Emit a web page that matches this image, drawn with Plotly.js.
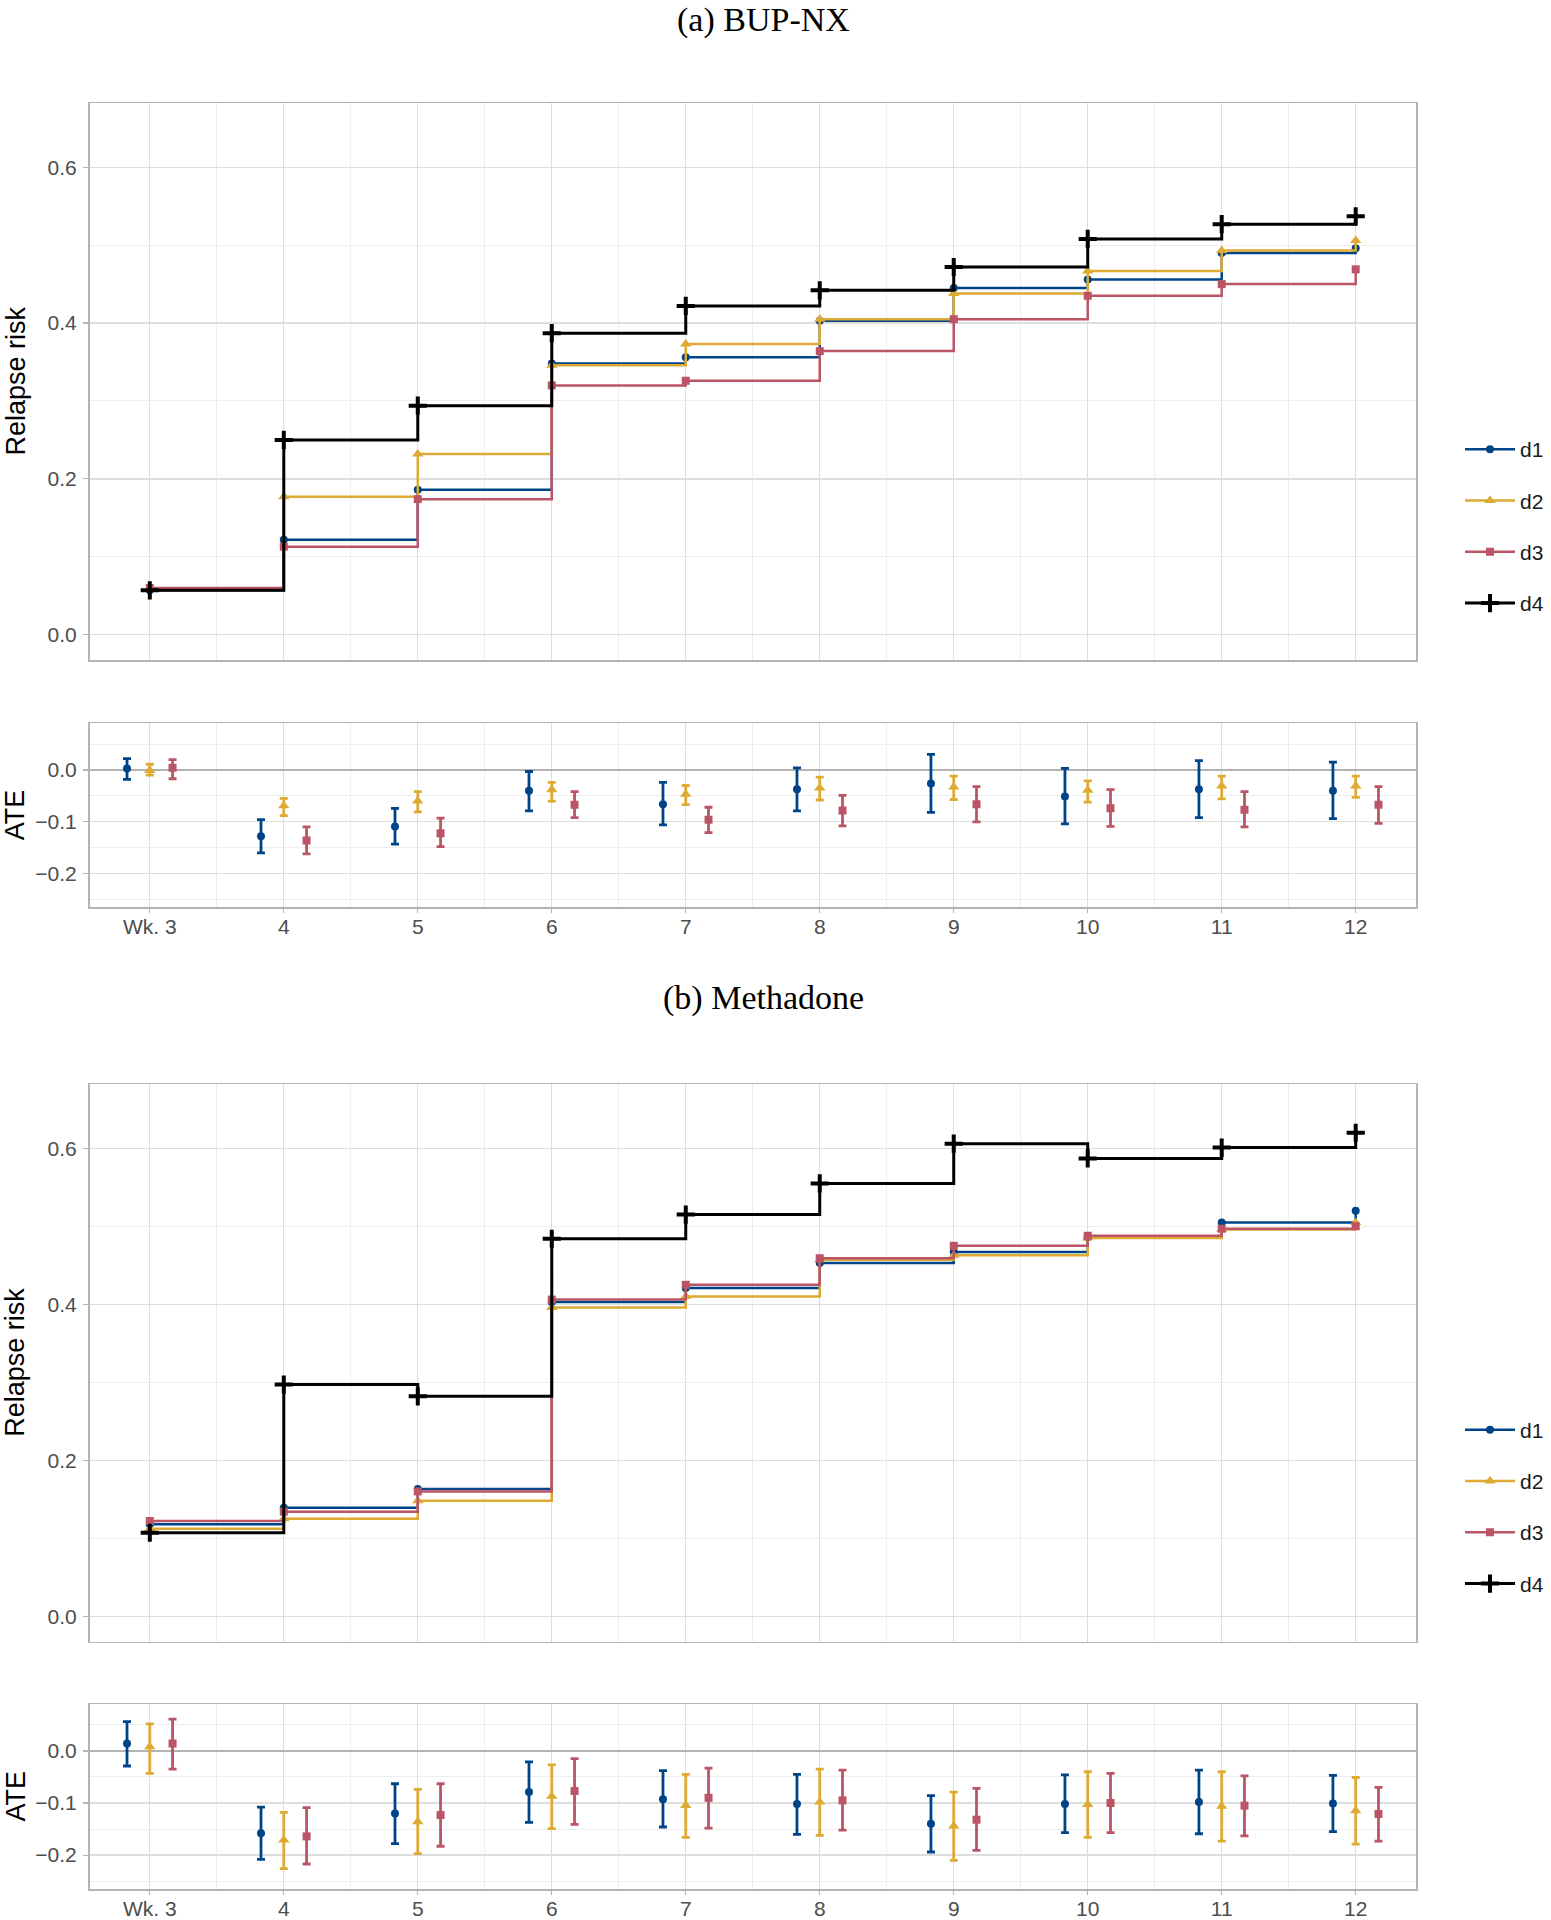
<!DOCTYPE html>
<html><head><meta charset="utf-8">
<script src="https://cdn.plot.ly/plotly-3.0.1.min.js"></script>
<style>html,body{margin:0;padding:0;background:#fff}</style>
</head><body><div id="chart" style="width:1551px;height:1920px"></div>
<script>
// ---------- data ----------
const weeks = [3, 4, 5, 6, 7, 8, 9, 10, 11, 12];
const weekLabels = ["Wk. 3", "4", "5", "6", "7", "8", "9", "10", "11", "12"];
const regimes = ["d1", "d2", "d3", "d4"];

// (a) BUP-NX relapse risk
const bupD1 = [0.057, 0.122, 0.186, 0.348, 0.356, 0.403, 0.445, 0.456, 0.490, 0.496];
const bupD2 = [0.058, 0.177, 0.232, 0.346, 0.373, 0.405, 0.438, 0.467, 0.493, 0.506];
const bupD3 = [0.060, 0.113, 0.174, 0.320, 0.326, 0.364, 0.405, 0.435, 0.450, 0.469];
const bupD4 = [0.057, 0.250, 0.294, 0.387, 0.422, 0.442, 0.472, 0.508, 0.527, 0.537];

// (a) BUP-NX ATE (vs d4): estimate, lower, upper
const bupAteD1 = [0.003, -0.128, -0.109, -0.040, -0.066, -0.037, -0.026, -0.051, -0.037, -0.040];
const bupLoD1  = [-0.018, -0.160, -0.143, -0.079, -0.106, -0.079, -0.082, -0.104, -0.092, -0.094];
const bupHiD1  = [0.022, -0.096, -0.074, -0.003, -0.024, 0.004, 0.030, 0.003, 0.018, 0.015];
const bupAteD2 = [-0.001, -0.069, -0.060, -0.038, -0.047, -0.035, -0.033, -0.039, -0.031, -0.031];
const bupLoD2  = [-0.010, -0.088, -0.081, -0.060, -0.067, -0.058, -0.057, -0.062, -0.056, -0.053];
const bupHiD2  = [0.011, -0.055, -0.042, -0.024, -0.030, -0.014, -0.012, -0.021, -0.012, -0.012];
const bupAteD3 = [0.004, -0.136, -0.122, -0.067, -0.096, -0.078, -0.066, -0.074, -0.077, -0.067];
const bupLoD3  = [-0.017, -0.162, -0.148, -0.092, -0.121, -0.108, -0.100, -0.109, -0.110, -0.103];
const bupHiD3  = [0.020, -0.110, -0.093, -0.042, -0.072, -0.049, -0.032, -0.038, -0.042, -0.032];

// (b) Methadone relapse risk
const metD1 = [0.118, 0.139, 0.163, 0.403, 0.421, 0.453, 0.467, 0.486, 0.505, 0.520];
const metD2 = [0.112, 0.125, 0.148, 0.396, 0.410, 0.457, 0.463, 0.485, 0.496, 0.505];
const metD3 = [0.122, 0.134, 0.160, 0.406, 0.425, 0.459, 0.475, 0.488, 0.497, 0.500];
const metD4 = [0.107, 0.297, 0.282, 0.484, 0.515, 0.555, 0.606, 0.587, 0.601, 0.620];

// (b) Methadone ATE
const metAteD1 = [0.014, -0.158, -0.120, -0.079, -0.093, -0.102, -0.140, -0.102, -0.098, -0.101];
const metLoD1  = [-0.029, -0.208, -0.178, -0.137, -0.146, -0.160, -0.194, -0.157, -0.159, -0.155];
const metHiD1  = [0.056, -0.108, -0.063, -0.021, -0.038, -0.045, -0.086, -0.046, -0.037, -0.047];
const metAteD2 = [0.008, -0.171, -0.136, -0.087, -0.105, -0.098, -0.144, -0.103, -0.106, -0.115];
const metLoD2  = [-0.043, -0.226, -0.197, -0.149, -0.166, -0.162, -0.210, -0.166, -0.173, -0.179];
const metHiD2  = [0.052, -0.118, -0.074, -0.027, -0.045, -0.035, -0.079, -0.040, -0.040, -0.051];
const metAteD3 = [0.014, -0.164, -0.123, -0.077, -0.090, -0.095, -0.132, -0.100, -0.105, -0.121];
const metLoD3  = [-0.035, -0.217, -0.183, -0.141, -0.148, -0.152, -0.191, -0.157, -0.163, -0.173];
const metHiD3  = [0.061, -0.109, -0.063, -0.015, -0.033, -0.037, -0.072, -0.043, -0.048, -0.070];

// ---------- styles ----------
const colors = {d1: "#004488", d2: "#DDAA33", d3: "#BB5566", d4: "#000000"};
const symbols = {d1: "circle", d2: "triangle-up", d3: "square", d4: "cross-thin"};
const msize = {d1: 8, d2: 10, d3: 8, d4: 13};
const dodge = {d1: -0.17, d2: 0, d3: 0.17};
const SANS = "Liberation Sans, Arial, sans-serif";

const traces = [];

function addRisk(series, xa, ya, legendName) {
  regimes.forEach((r, i) => {
    const isCross = r === "d4";
    traces.push({
      type: "scatter", mode: "lines+markers",
      x: weeks, y: series[i], name: r,
      xaxis: xa, yaxis: ya,
      legend: legendName, legendgroup: legendName + r,
      line: {shape: "hv", color: colors[r], width: isCross ? 3 : 2.5},
      marker: {symbol: symbols[r], size: msize[r], color: colors[r],
               line: {color: colors[r], width: isCross ? 4 : 0}},
      hoverinfo: "skip"
    });
  });
}

function addAte(est, lo, hi, xa, ya) {
  ["d1", "d2", "d3"].forEach((r, i) => {
    traces.push({
      type: "scatter", mode: "markers",
      x: weeks.map(w => w + dodge[r]), y: est[i], name: r,
      xaxis: xa, yaxis: ya, showlegend: false,
      marker: {symbol: symbols[r], size: msize[r], color: colors[r]},
      error_y: {type: "data", symmetric: false,
                array: hi[i].map((v, k) => v - est[i][k]),
                arrayminus: lo[i].map((v, k) => est[i][k] - v),
                color: colors[r], thickness: 2.8, width: 4},
      hoverinfo: "skip"
    });
  });
}

addRisk([bupD1, bupD2, bupD3, bupD4], "x", "y", "legend");
addAte([bupAteD1, bupAteD2, bupAteD3], [bupLoD1, bupLoD2, bupLoD3], [bupHiD1, bupHiD2, bupHiD3], "x2", "y2");
addRisk([metD1, metD2, metD3, metD4], "x3", "y3", "legend2");
addAte([metAteD1, metAteD2, metAteD3], [metLoD1, metLoD2, metLoD3], [metHiD1, metHiD2, metHiD3], "x4", "y4");

// ---------- layout ----------
const W = 1551, H = 1920;
const xDom = [89.5 / W, 1416 / W];
const dom = (top, bottom) => [1 - bottom / H, 1 - top / H];

function xAxis(anchor, labels) {
  return {
    domain: xDom, anchor: anchor, range: [2.55, 12.45],
    tickmode: "array", tickvals: weeks, ticktext: weekLabels,
    showticklabels: labels, ticks: labels ? "outside" : "", ticklen: 4, tickwidth: 1.2, tickcolor: "#b3b3b3",
    ticklabelstandoff: -4,
    tickfont: {family: SANS, size: 21, color: "#4d4d4d"},
    showgrid: true, gridcolor: "#dedede", gridwidth: 1.3,
    minor: {tickmode: "linear", tick0: 3.5, dtick: 1, showgrid: true, gridcolor: "#eeeeee", gridwidth: 1, ticks: ""},
    showline: true, mirror: true, linecolor: "#b3b3b3", linewidth: 1.5,
    zeroline: false, fixedrange: true, automargin: false
  };
}
function yAxis(anchor, domain, range, dtick, minorTick0, minorDtick, zero) {
  return {
    domain: domain, anchor: anchor, range: range,
    tickmode: "linear", tick0: 0, dtick: dtick, tickformat: ".1f",
    ticks: "outside", ticklen: 5, tickwidth: 1.2, tickcolor: "#b3b3b3",
    ticklabelstandoff: 2,
    tickfont: {family: SANS, size: 21, color: "#4d4d4d"},
    showgrid: true, gridcolor: "#dedede", gridwidth: 1.3,
    minor: {tickmode: "linear", tick0: minorTick0, dtick: minorDtick, showgrid: true, gridcolor: "#eeeeee", gridwidth: 1, ticks: ""},
    showline: true, mirror: true, linecolor: "#b3b3b3", linewidth: 1.5,
    zeroline: zero, zerolinecolor: "#b3b3b3", zerolinewidth: 2.2, fixedrange: true, automargin: false
  };
}

const dMainA = dom(103, 660), dAteA = dom(723.3, 907.3);
const dMainB = dom(1084, 1641.5), dAteB = dom(1704, 1889);
const riskRange = [-0.0325, 0.6825], ateRange = [-0.265, 0.09];

const legendCommon = {
  xanchor: "left", yanchor: "middle", x: 1460 / W,
  font: {family: SANS, size: 21, color: "#1a1a1a"},
  bgcolor: "rgba(0,0,0,0)", borderwidth: 0, tracegroupgap: 21, itemwidth: 50
};

const serif = {family: "Liberation Serif, Times New Roman, serif", size: 34, color: "#000"};
const axTitleFont = {family: SANS, size: 27, color: "#000"};

const layout = {
  width: W, height: H,
  margin: {l: 0, r: 0, t: 0, b: 0, autoexpand: false},
  paper_bgcolor: "#fff", plot_bgcolor: "#fff",
  xaxis: xAxis("y", false),
  yaxis: yAxis("x", dMainA, riskRange, 0.2, 0.1, 0.2, false),
  xaxis2: xAxis("y2", true),
  yaxis2: yAxis("x2", dAteA, ateRange, 0.1, 0.05, 0.1, true),
  xaxis3: xAxis("y3", false),
  yaxis3: yAxis("x3", dMainB, riskRange, 0.2, 0.1, 0.2, false),
  xaxis4: xAxis("y4", true),
  yaxis4: yAxis("x4", dAteB, ateRange, 0.1, 0.05, 0.1, true),
  legend: Object.assign({}, legendCommon, {y: 1 - 526.5 / H}),
  legend2: Object.assign({}, legendCommon, {y: 1 - 1507 / H}),
  annotations: [
    {text: "(a) BUP-NX", xref: "paper", yref: "paper", x: 763 / W, y: 1 - 20 / H, xanchor: "center", yanchor: "middle", showarrow: false, font: serif},
    {text: "(b) Methadone", xref: "paper", yref: "paper", x: 763 / W, y: 1 - 998 / H, xanchor: "center", yanchor: "middle", showarrow: false, font: serif},
    {text: "Relapse risk", xref: "paper", yref: "paper", x: 15 / W, y: (dMainA[0] + dMainA[1]) / 2, textangle: -90, xanchor: "center", yanchor: "middle", showarrow: false, font: axTitleFont},
    {text: "ATE", xref: "paper", yref: "paper", x: 15 / W, y: (dAteA[0] + dAteA[1]) / 2, textangle: -90, xanchor: "center", yanchor: "middle", showarrow: false, font: axTitleFont},
    {text: "Relapse risk", xref: "paper", yref: "paper", x: 15 / W, y: (dMainB[0] + dMainB[1]) / 2, textangle: -90, xanchor: "center", yanchor: "middle", showarrow: false, font: axTitleFont},
    {text: "ATE", xref: "paper", yref: "paper", x: 15 / W, y: (dAteB[0] + dAteB[1]) / 2, textangle: -90, xanchor: "center", yanchor: "middle", showarrow: false, font: axTitleFont}
  ]
};

Plotly.newPlot("chart", traces, layout, {displayModeBar: false, staticPlot: true});
</script>
</body></html>
